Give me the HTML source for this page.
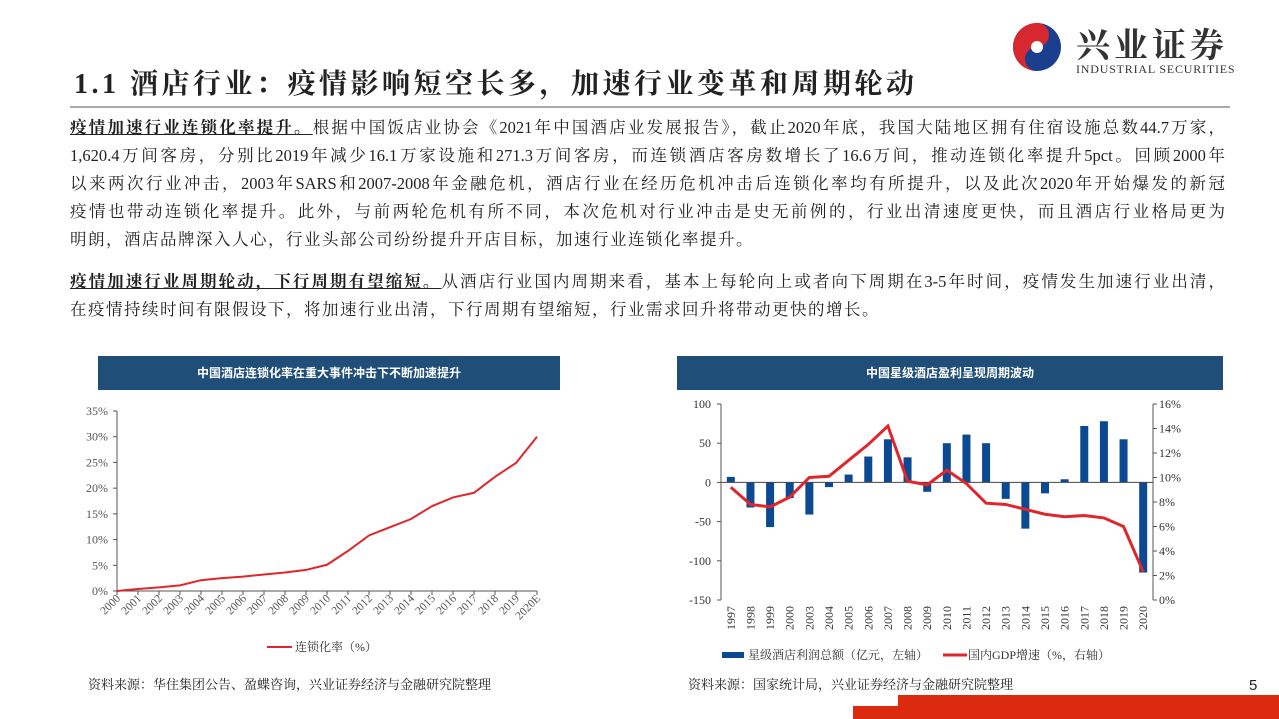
<!DOCTYPE html>
<html><head><meta charset="utf-8">
<style>
body{margin:0;width:1279px;height:719px;background:#fff;position:relative;overflow:hidden;font-family:"Liberation Serif","Noto Serif CJK SC",serif;color:#222}
.abs{position:absolute}
.ln{position:absolute;left:70px;width:1155px;font-size:16.5px;line-height:20px;white-space:nowrap;text-align:justify;text-align-last:justify}
.ln.l{text-align-last:left}
b.u{text-decoration:underline;font-weight:bold}
.hdr{position:absolute;height:34px;background:#1f4e79;color:#fff;font-weight:bold;font-size:12px;line-height:34px;text-align:center;font-family:"Liberation Sans","Noto Sans CJK SC",sans-serif}
.src{position:absolute;font-size:13px}
</style></head><body>
<div class="abs" style="left:1010px;top:18px;width:260px;height:60px">
<svg width="50" height="50" style="position:absolute;left:2px;top:4px"><circle cx="25" cy="25" r="24" fill="#1a3f8f"/><path d="M25 1 A24 24 0 0 0 25 49 A12 12 0 0 1 25 25 A12 12 0 0 0 25 1Z" fill="#d7282f"/><circle cx="25" cy="25" r="6" fill="#fff"/></svg>
<div class="abs" style="left:66px;top:0;font-size:34px;font-weight:bold;letter-spacing:4px;font-family:'Noto Serif CJK SC',serif;color:#333">兴业证券</div>
<div class="abs" style="left:66px;top:44px;font-size:12px;letter-spacing:0.8px;color:#333">INDUSTRIAL SECURITIES</div>
</div>
<div class="abs" style="left:74px;top:62px;font-size:28px;font-weight:bold;letter-spacing:3.5px;font-family:'Liberation Serif','Noto Serif CJK SC',serif">1.1 酒店行业：疫情影响短空长多，加速行业变革和周期轮动</div>
<div class="abs" style="left:70px;top:106px;width:1160px;height:2px;background:#aaa"></div>
<div>
<div class="ln" style="top:118px"><b class="u">疫情加速行业连锁化率提升。</b>根据中国饭店业协会《2021年中国酒店业发展报告》，截止2020年底，我国大陆地区拥有住宿设施总数44.7万家，</div>
<div class="ln" style="top:146px">1,620.4万间客房，分别比2019年减少16.1万家设施和271.3万间客房，而连锁酒店客房数增长了16.6万间，推动连锁化率提升5pct。回顾2000年</div>
<div class="ln" style="top:174px">以来两次行业冲击，2003年SARS和2007-2008年金融危机，酒店行业在经历危机冲击后连锁化率均有所提升，以及此次2020年开始爆发的新冠</div>
<div class="ln" style="top:202px">疫情也带动连锁化率提升。此外，与前两轮危机有所不同，本次危机对行业冲击是史无前例的，行业出清速度更快，而且酒店行业格局更为</div>
<div class="ln l" style="top:230px;letter-spacing:1.5px">明朗，酒店品牌深入人心，行业头部公司纷纷提升开店目标，加速行业连锁化率提升。</div>
</div>
<div>
<div class="ln" style="top:272px"><b class="u">疫情加速行业周期轮动，下行周期有望缩短。</b>从酒店行业国内周期来看，基本上每轮向上或者向下周期在3-5年时间，疫情发生加速行业出清，</div>
<div class="ln l" style="top:300px;letter-spacing:1.5px">在疫情持续时间有限假设下，将加速行业出清，下行周期有望缩短，行业需求回升将带动更快的增长。</div>
</div>
<div class="hdr" style="left:98px;top:356px;width:462px">中国酒店连锁化率在重大事件冲击下不断加速提升</div>
<div class="hdr" style="left:677px;top:356px;width:546px">中国星级酒店盈利呈现周期波动</div>
<svg class="abs" style="left:0;top:0" width="1279" height="719" id="svg" font-family="Liberation Serif, Noto Serif CJK SC, serif"></svg>
<div class="src" style="left:88px;top:674px">资料来源：华住集团公告、盈蝶咨询，兴业证券经济与金融研究院整理</div>
<div class="src" style="left:688px;top:674px">资料来源：国家统计局，兴业证券经济与金融研究院整理</div>
<div class="abs" style="left:1249px;top:677px;font-size:15px;font-family:'Liberation Sans',sans-serif">5</div>
<div class="abs" style="left:898px;top:695px;width:381px;height:12px;background:#dc2a0e"></div>
<div class="abs" style="left:853px;top:706px;width:426px;height:13px;background:#dc2a0e"></div>
<script>
const NS='http://www.w3.org/2000/svg';
const svg=document.getElementById('svg');
function mk(t,a,txt){const e=document.createElementNS(NS,t);for(const k in a)e.setAttribute(k,a[k]);if(txt!=null)e.textContent=txt;svg.appendChild(e);return e;}
// Chart 1 data
const years1=['2000','2001','2002','2003','2004','2005','2006','2007','2008','2009','2010','2011','2012','2013','2014','2015','2016','2017','2018','2019','2020E'];
const chainRate=[0,0.4,0.7,1.1,2.1,2.5,2.8,3.2,3.6,4.1,5.1,7.8,10.8,12.4,14,16.5,18.2,19.1,22.2,24.9,30];
const ticks1=[0,5,10,15,20,25,30,35];
// Chart 2 data
const years2=['1997','1998','1999','2000','2003','2004','2005','2006','2007','2008','2009','2010','2011','2012','2013','2014','2015','2016','2017','2018','2019','2020'];
const profit=[7,-32,-57,-20,-41,-6,10,33,55,32,-12,50,61,50,-21,-59,-14,4,72,78,55,-115];
const gdp=[9.2,7.8,7.6,8.4,10.0,10.1,11.4,12.7,14.2,9.7,9.4,10.6,9.5,7.9,7.8,7.4,7.0,6.8,6.9,6.7,6.0,2.3];
const ticksL=[100,50,0,-50,-100,-150];
const ticksR=[0,2,4,6,8,10,12,14,16];

// chart1
const x1=117,x1e=537,y1b=591,y1t=411;
const n1=years1.length;
const X1=i=>x1+i*(x1e-x1)/(n1-1);
const Y1=v=>y1b-(v/35)*(y1b-y1t);
let e=mk('line',{x1:x1,y1:y1t,x2:x1,y2:y1b,stroke:'#555'});

e=mk('line',{x1:x1,y1:y1b,x2:x1e,y2:y1b,stroke:'#555'});

ticks1.forEach(t=>{mk('line',{x1:x1-4,y1:Y1(t),x2:x1,y2:Y1(t),stroke:'#555'});
 e=mk('text',{x:x1-9,y:Y1(t)+4,'text-anchor':'end','font-size':12,fill:'#555'},t+'%');
 });
years1.forEach((y,i)=>{mk('line',{x1:X1(i),y1:y1b,x2:X1(i),y2:y1b+4,stroke:'#555'});
 e=mk('text',{x:X1(i)+4,y:y1b+8,'text-anchor':'end','font-size':11.5,fill:'#555',transform:`rotate(-45 ${X1(i)+4} ${y1b+8})`},y);
 });
e=mk('polyline',{points:chainRate.map((v,i)=>X1(i)+','+Y1(v)).join(' '),fill:'none',stroke:'#e0262b','stroke-width':2});

e=mk('line',{x1:267,y1:647,x2:292,y2:647,stroke:'#e0262b','stroke-width':2});

e=mk('text',{x:295,y:651,'font-size':12,fill:'#333'},'连锁化率（%）');


// chart2
const x2=721,x2e=1153,y2t=404,y2b=600;
const n2=years2.length,bw=(x2e-x2)/n2;
const YL=v=>y2t+(100-v)/250*(y2b-y2t);
const YR=v=>y2b-v/16*(y2b-y2t);
const XC=i=>x2+bw*(i+0.5);
e=mk('line',{x1:x2,y1:y2t,x2:x2,y2:y2b,stroke:'#555'});

e=mk('line',{x1:x2e,y1:y2t,x2:x2e,y2:y2b,stroke:'#555'});

ticksL.forEach(t=>{mk('line',{x1:x2-4,y1:YL(t),x2:x2,y2:YL(t),stroke:'#555'});
 e=mk('text',{x:x2-10,y:YL(t)+4,'text-anchor':'end','font-size':12,fill:'#333'},t);
 });
ticksR.forEach(t=>{mk('line',{x1:x2e,y1:YR(t),x2:x2e+4,y2:YR(t),stroke:'#555'});
 e=mk('text',{x:x2e+6,y:YR(t)+4,'font-size':12,fill:'#333'},t+'%');
 });
profit.forEach((v,i)=>{const y0=YL(0),yv=YL(v);
 e=mk('rect',{x:XC(i)-4,y:Math.min(y0,yv),width:8,height:Math.abs(yv-y0),fill:'#0b4a92'});
 });
e=mk('line',{x1:x2,y1:YL(0),x2:x2e,y2:YL(0),stroke:'#444'});

years2.forEach((y,i)=>{
 e=mk('text',{x:XC(i)+4,y:y2b+6,'text-anchor':'end','font-size':12,fill:'#333',transform:`rotate(-90 ${XC(i)+4} ${y2b+6})`},y);
 });
e=mk('polyline',{points:gdp.map((v,i)=>XC(i)+','+YR(v)).join(' '),fill:'none',stroke:'#e0262b','stroke-width':3});

e=mk('rect',{x:722,y:652,width:22,height:6,fill:'#0b4a92'});

e=mk('text',{x:748,y:659,'font-size':12,fill:'#333'},'星级酒店利润总额（亿元，左轴）');

e=mk('line',{x1:943,y1:655,x2:967,y2:655,stroke:'#e0262b','stroke-width':3});

e=mk('text',{x:968,y:659,'font-size':12,fill:'#333'},'国内GDP增速（%，右轴）');

</script>
</body></html>
